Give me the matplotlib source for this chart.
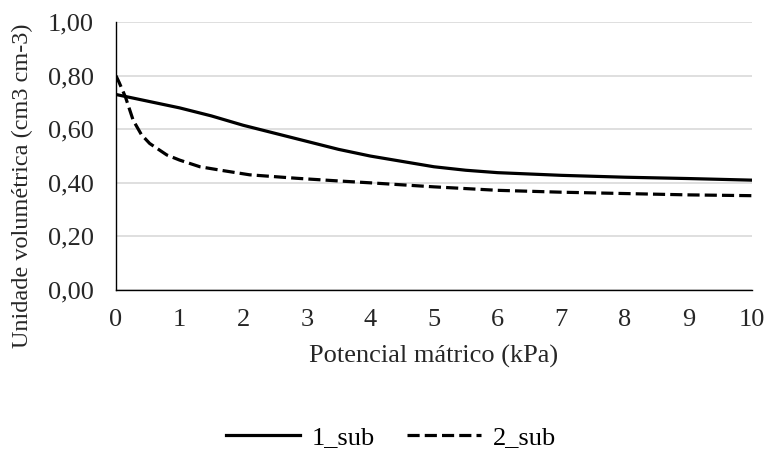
import matplotlib
matplotlib.use("Agg")
import matplotlib.pyplot as plt
from matplotlib.ticker import FuncFormatter

# dados
pot_1 = [0, 0.5, 1, 1.5, 2, 2.5, 3, 3.5, 4, 4.5, 5, 5.5, 6, 7, 8, 9, 10]
sub_1 = [0.73, 0.705, 0.68, 0.65, 0.615, 0.585, 0.555, 0.525, 0.50, 0.48, 0.46, 0.447, 0.438, 0.428, 0.421, 0.416, 0.41]

pot_2 = [0, 0.05, 0.15, 0.27, 0.4, 0.53, 0.8, 1.0, 1.32, 1.7, 2.1, 2.84, 3.5, 4, 5, 6, 7, 8, 9, 10]
sub_2 = [0.80, 0.775, 0.72, 0.634, 0.58, 0.547, 0.504, 0.485, 0.46, 0.445, 0.43, 0.417, 0.407, 0.40, 0.385, 0.372, 0.365, 0.36, 0.355, 0.352]

x_ticks = list(range(0, 11))
y_ticks = [0, 0.2, 0.4, 0.6, 0.8, 1.0]

plt.rcParams['font.family'] = ['Liberation Serif', 'DejaVu Serif']
txt = '#262626'

fig = plt.figure(figsize=(7.7, 4.53), dpi=100, facecolor='white')
ax = fig.add_axes([0.1506, 0.360, 0.826, 0.591])

ax.plot(pot_1, sub_1, color='black', lw=2.3, label='1_sub')
ax.plot(pot_2, sub_2, color='black', lw=2.3, ls=(0, (3.8, 1.6)), label='2_sub')

ax.set_xlim(0, 10)
ax.set_ylim(0, 1.0)
ax.set_xticks(x_ticks)
ax.set_yticks(y_ticks)
ax.yaxis.set_major_formatter(FuncFormatter(lambda v, p: f"{v:.2f}".replace('.', ',')))
ax.grid(axis='y', color='#d9d9d9', lw=1.2)
ax.set_axisbelow(True)

for s in ['top', 'right']:
    ax.spines[s].set_visible(False)
ax.spines['left'].set_color('black')
ax.spines['bottom'].set_color('black')
ax.spines['left'].set_linewidth(1.0)
ax.spines['bottom'].set_linewidth(1.0)
ax.tick_params(length=0, labelsize=19, colors=txt)
ax.tick_params(axis='y', pad=16)
ax.tick_params(axis='x', pad=14)

ax.set_xlabel('Potencial mátrico (kPa)', fontsize=19, color=txt, labelpad=10)
ax.set_ylabel('Unidade volumétrica (cm3 cm-3)', fontsize=17.5, color=txt)
ax.yaxis.set_label_coords(-0.13, 0.39)

fig.legend(loc='center', bbox_to_anchor=(0.508, 0.035), ncol=2, frameon=False,
           fontsize=19, handlelength=2.8, handletextpad=0.45, columnspacing=1.2)

fig.savefig('out.png', dpi=100, facecolor='white')
